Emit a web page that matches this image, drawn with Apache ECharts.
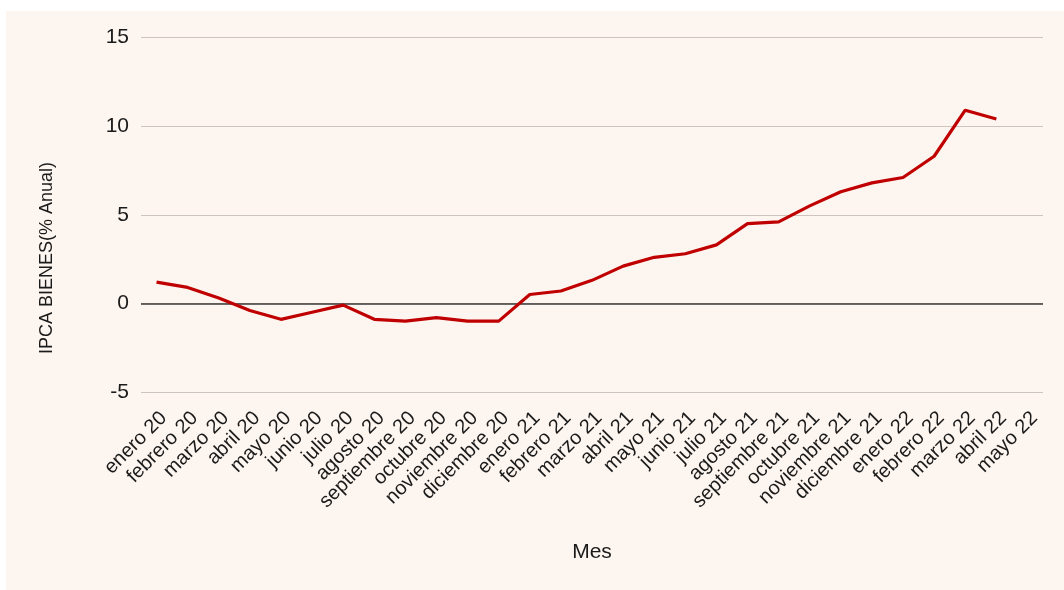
<!DOCTYPE html>
<html>
<head>
<meta charset="utf-8">
<script src="https://cdn.jsdelivr.net/npm/echarts@6/dist/echarts.min.js"></script>
<style>
  html, body { margin: 0; padding: 0; background: #ffffff; }
  #chart { width: 1064px; height: 590px; }
</style>
</head>
<body>
<div id="chart"></div>
<script>
// Meses (enero 2020 – mayo 2022)
const meses = [
  'enero 20', 'febrero 20', 'marzo 20', 'abril 20', 'mayo 20', 'junio 20',
  'julio 20', 'agosto 20', 'septiembre 20', 'octubre 20', 'noviembre 20', 'diciembre 20',
  'enero 21', 'febrero 21', 'marzo 21', 'abril 21', 'mayo 21', 'junio 21',
  'julio 21', 'agosto 21', 'septiembre 21', 'octubre 21', 'noviembre 21', 'diciembre 21',
  'enero 22', 'febrero 22', 'marzo 22', 'abril 22', 'mayo 22'
];

// IPCA bienes, variación anual (%); mayo 22 sin dato
const ipcaBienes = [
  1.2, 0.9, 0.3, -0.4, -0.9, -0.5,
  -0.1, -0.9, -1.0, -0.8, -1.0, -1.0,
  0.5, 0.7, 1.3, 2.1, 2.6, 2.8,
  3.3, 4.5, 4.6, 5.5, 6.3, 6.8,
  7.1, 8.3, 10.9, 10.4, null
];

// Escala del eje vertical
const yMin = -5;
const yMax = 15;
const yPaso = 5;

const chart = echarts.init(document.getElementById('chart'), null, { renderer: 'canvas' });

chart.setOption({
  animation: false,
  backgroundColor: '#ffffff',
  textStyle: { fontFamily: 'Liberation Sans, Arial, sans-serif' },
  graphic: [
    {
      type: 'rect',
      z: -10,
      shape: { x: 6, y: 11, width: 1058, height: 579 },
      style: { fill: '#fdf5ef' },
      silent: true
    },
    {
      // título del eje vertical
      type: 'text',
      x: 47,
      y: 258,
      rotation: Math.PI / 2,
      style: {
        text: 'IPCA BIENES(% Anual)',
        fontSize: 18,
        fontFamily: 'Liberation Sans, Arial, sans-serif',
        fill: '#1a1a1a',
        align: 'center',
        verticalAlign: 'middle'
      },
      silent: true
    }
  ],
  grid: { left: 141, right: 21, top: 37.5, bottom: 198, containLabel: false },
  xAxis: {
    type: 'category',
    data: meses,
    boundaryGap: true,
    axisLine: { show: false },
    axisTick: { show: false },
    axisLabel: {
      interval: 0,
      rotate: 45,
      margin: 16,
      fontSize: 20,
      verticalAlign: 'top',
      color: '#1a1a1a'
    },
    name: 'Mes',
    nameLocation: 'middle',
    nameGap: 150,
    nameTextStyle: { fontSize: 21, color: '#1a1a1a' }
  },
  yAxis: {
    type: 'value',
    min: yMin,
    max: yMax,
    interval: yPaso,
    axisLine: { show: false },
    axisTick: { show: false },
    axisLabel: { fontSize: 21, color: '#1a1a1a', margin: 12 },
    splitLine: { lineStyle: { color: '#cfc4bd', width: 1.2 } }
  },
  series: [{
    type: 'line',
    data: ipcaBienes,
    symbol: 'none',
    connectNulls: false,
    lineStyle: { color: '#c00000', width: 3.2 },
    z: 5,
    markLine: {
      silent: true,
      symbol: 'none',
      label: { show: false },
      lineStyle: { color: '#3a3a3a', width: 1.6, type: 'solid' },
      data: [{ yAxis: 0 }],
      z: 3
    }
  }]
});
</script>
</body>
</html>
